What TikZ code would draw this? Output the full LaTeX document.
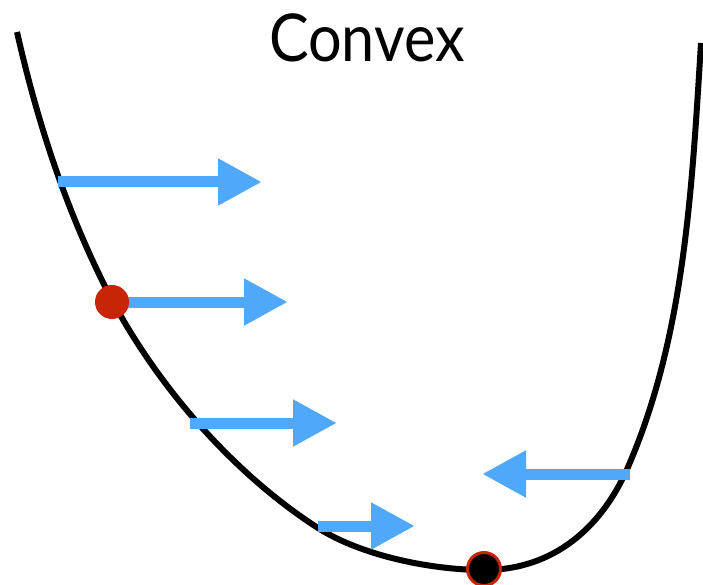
\documentclass[tikz,border=0pt]{standalone}
\usepackage{fontspec}
\setmainfont{Lato}
\usetikzlibrary{arrows.meta}
\definecolor{arrowblue}{RGB}{80,168,250}
\definecolor{dotred}{RGB}{200,37,8}
\tikzset{
  curveline/.style={line width=6pt, black},
  gradarrow/.style={line width=11pt, arrowblue, -{Triangle[length=44pt,width=44pt]}},
  reddot/.style={circle, fill=dotred, minimum size=34pt, inner sep=0pt},
  mindot/.style={circle, fill=black, draw=dotred, line width=3pt, minimum size=33pt, inner sep=0pt},
  titletext/.style={font=\fontsize{66}{66}\selectfont, inner sep=0pt, anchor=base}
}
\begin{document}
\begin{tikzpicture}[x=1pt,y=-1pt]
\useasboundingbox (0,0) rectangle (703,585);
\node[titletext] (title) at (367,62) {\scalebox{0.9}[1]{Convex}};
\draw[curveline] (17,32)
  .. controls (38,125) and (68,216) .. (112,300)
  .. controls (159,388) and (234,474) .. (318,528)
  .. controls (362,556) and (432,570) .. (484,570)
  .. controls (554,570) and (602,527) .. (628,467)
  .. controls (685,336) and (692,186) .. (701,43);
\coordinate (a1s) at (58,182);
\coordinate (a1e) at (262,182);
\coordinate (a2e) at (288,302);
\coordinate (a3s) at (190,423);
\coordinate (a3e) at (337,423);
\coordinate (a4s) at (318,526);
\coordinate (a4e) at (415,526);
\coordinate (a5s) at (630,474);
\coordinate (a5e) at (482,474);
\draw[gradarrow] (a1s) -- (a1e);
\draw[gradarrow] (112,302) coordinate (a2s) -- (a2e);
\draw[gradarrow] (a3s) -- (a3e);
\draw[gradarrow] (a4s) -- (a4e);
\draw[gradarrow] (a5s) -- (a5e);
\node[reddot] (point) at (a2s) {};
\node[mindot] (minimum) at (484,569) {};
\end{tikzpicture}
\end{document}
